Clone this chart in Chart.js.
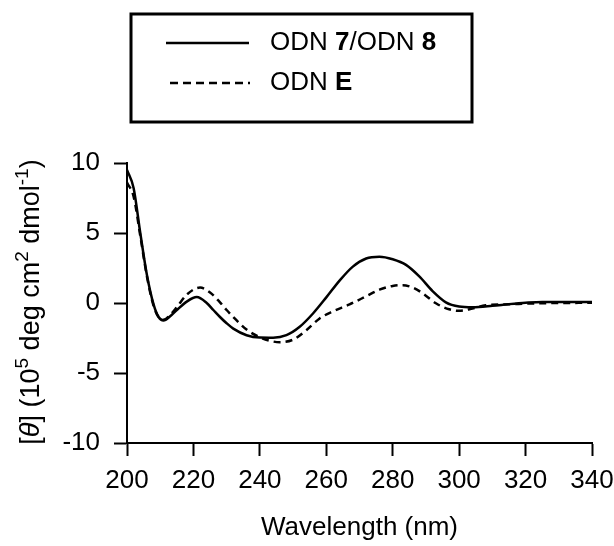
<!DOCTYPE html>
<html lang="en">
  <head>
    <meta charset="UTF-8" />
    <title>CD spectra</title>
    <style>
      body { margin: 0; background: #fff; }
      canvas { display: block; }
    </style>
  </head>
  <body>
    <canvas id="cd" width="614" height="546"></canvas>

    <script src="https://cdn.jsdelivr.net/npm/chart.js"></script>
    <script>
      // wavelength (nm) and [theta] (10^5 deg cm2 dmol-1)
      const wlSolid = [200, 202, 204, 206, 208, 209.5, 211, 213, 215, 218, 221, 224, 226, 228, 230, 232, 236, 240, 244, 248, 252, 256, 260, 264, 268, 272, 276, 280, 284, 288, 292, 296, 300, 304, 310, 315, 320, 325, 330, 335, 340];
      const thetaSolid = [9.5, 8.2, 5.0, 2.0, -0.1, -1.0, -1.25, -0.95, -0.5, 0.1, 0.42, 0.0, -0.5, -1.0, -1.45, -1.83, -2.3, -2.47, -2.48, -2.3, -1.7, -0.75, 0.4, 1.6, 2.6, 3.18, 3.3, 3.12, 2.72, 1.9, 0.85, 0.05, -0.25, -0.3, -0.2, -0.08, 0.02, 0.08, 0.08, 0.08, 0.08];

      const wlDashed = [200, 202, 204, 206, 208, 209.5, 211, 213, 215, 218, 222, 225, 228, 230, 232, 236, 240, 243, 246, 250, 254, 258, 262, 267, 272, 276, 280, 283, 286, 289, 293, 297, 300, 304, 308, 314, 324, 332, 340];
      const thetaDashed = [8.6, 7.6, 4.8, 1.9, -0.2, -1.0, -1.2, -0.85, -0.3, 0.6, 1.1, 0.75, 0.05, -0.5, -1.0, -1.9, -2.45, -2.7, -2.8, -2.62, -1.94, -1.1, -0.6, -0.1, 0.48, 0.95, 1.22, 1.27, 1.1, 0.7, -0.02, -0.45, -0.56, -0.4, -0.16, -0.1, -0.02, 0.0, 0.02];

      const seriesNames = ["ODN 7/ODN 8", "ODN E"];
      // legend text split into runs, bold parts flagged
      const legendRuns = [
        [["ODN ", false], ["7", true], ["/ODN ", false], ["8", true]],
        [["ODN ", false], ["E", true]],
      ];
      const yTitleRuns = [
        ["[", "n"], ["\u03B8", "i"], ["] (10", "n"], ["5", "s"], [" deg cm", "n"], ["2", "s"], [" dmol", "n"], ["-1", "s"], [")", "n"],
      ];

      const FONT = "Liberation Sans, Arial, Helvetica, sans-serif";
      const toPts = (xs, ys) => xs.map((x, i) => ({ x: x, y: ys[i] }));

      const boxLegend = {
        id: "boxLegend",
        afterDraw(chart) {
          const c = chart.ctx;
          c.save();
          c.strokeStyle = "#000";
          c.lineWidth = 3;
          c.strokeRect(131, 14, 341, 108);

          c.lineWidth = 2.5;
          c.beginPath();
          c.moveTo(166, 43);
          c.lineTo(249, 43);
          c.stroke();
          c.setLineDash([8, 5]);
          c.beginPath();
          c.moveTo(170, 83);
          c.lineTo(250, 83);
          c.stroke();
          c.setLineDash([]);

          c.fillStyle = "#000";
          c.textBaseline = "middle";
          c.textAlign = "left";
          const ys = [43, 83];
          legendRuns.forEach((runs, k) => {
            let x = 270;
            runs.forEach(([t, b]) => {
              c.font = (b ? "bold " : "") + "26px " + FONT;
              c.fillText(t, x, ys[k]);
              x += c.measureText(t).width;
            });
          });

          // rotated y title with superscripts
          const big = "27px " + FONT;
          const small = "19px " + FONT;
          const fontOf = (m) => (m === "s" ? small : m === "i" ? "italic " + big : big);
          let total = 0;
          yTitleRuns.forEach(([t, m]) => {
            c.font = fontOf(m);
            total += c.measureText(t).width;
          });
          c.translate(39, 302);
          c.rotate(-Math.PI / 2);
          c.textBaseline = "alphabetic";
          let x = -total / 2;
          yTitleRuns.forEach(([t, m]) => {
            c.font = fontOf(m);
            c.fillText(t, x, m === "s" ? -11 : 0);
            x += c.measureText(t).width;
          });
          c.restore();
        },
      };

      new Chart(document.getElementById("cd"), {
        type: "line",
        data: {
          datasets: [
            {
              label: seriesNames[0],
              data: toPts(wlSolid, thetaSolid),
              borderColor: "#000",
              borderWidth: 2.5,
              pointRadius: 0,
              cubicInterpolationMode: "monotone",
            },
            {
              label: seriesNames[1],
              data: toPts(wlDashed, thetaDashed),
              borderColor: "#000",
              borderWidth: 2.5,
              borderDash: [7, 5],
              pointRadius: 0,
              cubicInterpolationMode: "monotone",
            },
          ],
        },
        options: {
          responsive: false,
          animation: false,
          devicePixelRatio: 1,
          layout: { padding: { top: 163, right: 22, left: 0, bottom: 0 } },
          plugins: { legend: { display: false }, tooltip: { enabled: false } },
          scales: {
            x: {
              type: "linear",
              min: 200,
              max: 340,
              afterFit: (s) => {
                s.height = 103;
                s.paddingLeft = 0;
                s.paddingRight = 0;
              },
              ticks: {
                stepSize: 20,
                color: "#000",
                padding: 9,
                maxRotation: 0,
                font: { family: FONT, size: 26 },
              },
              grid: { drawOnChartArea: false, tickLength: 13, tickColor: "#000", tickWidth: 2 },
              border: { display: true, color: "#000", width: 2 },
              title: {
                display: true,
                text: "Wavelength (nm)",
                color: "#000",
                font: { family: FONT, size: 26 },
                padding: { top: 0, bottom: 3 },
              },
            },
            y: {
              min: -10,
              max: 10,
              afterFit: (s) => {
                s.width = 127;
                s.paddingTop = 0;
                s.paddingBottom = 0;
              },
              ticks: {
                stepSize: 5,
                color: "#000",
                padding: 14,
                font: { family: FONT, size: 26 },
              },
              grid: { drawOnChartArea: false, tickLength: 13, tickColor: "#000", tickWidth: 2 },
              border: { display: true, color: "#000", width: 2 },
            },
          },
        },
        plugins: [boxLegend],
      });
    </script>
  </body>
</html>
